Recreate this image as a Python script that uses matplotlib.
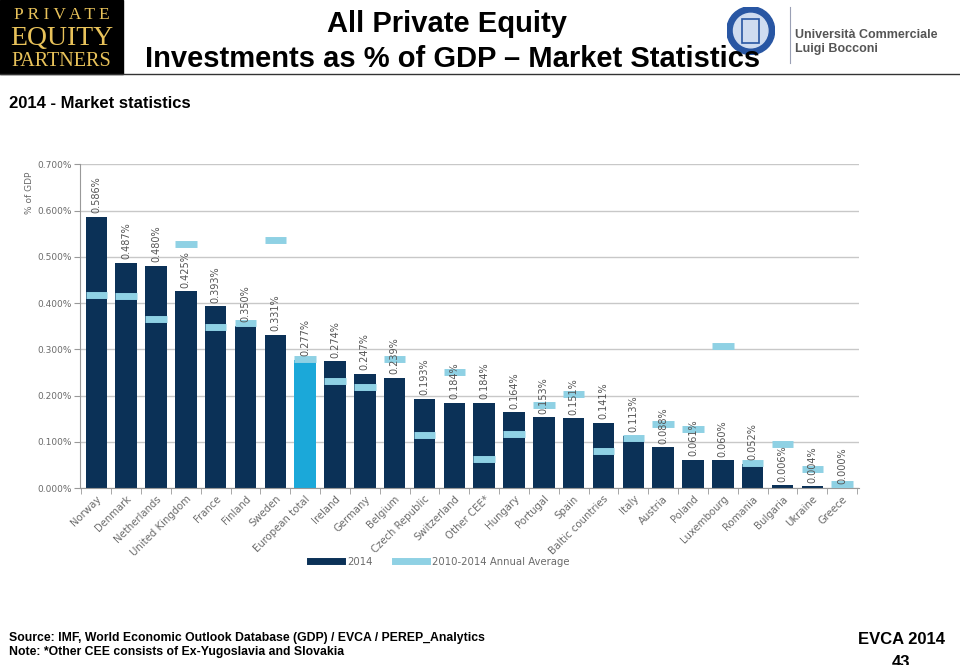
import matplotlib
matplotlib.use("Agg")
import matplotlib.pyplot as plt
from matplotlib.patches import Rectangle, Circle
from matplotlib.lines import Line2D

# data (% of GDP)
countries = ["Norway", "Denmark", "Netherlands", "United Kingdom", "France", "Finland",
             "Sweden", "European total", "Ireland", "Germany", "Belgium", "Czech Republic",
             "Switzerland", "Other CEE*", "Hungary", "Portugal", "Spain", "Baltic countries",
             "Italy", "Austria", "Poland", "Luxembourg", "Romania", "Bulgaria", "Ukraine",
             "Greece"]
val_2014 = [0.586, 0.487, 0.480, 0.425, 0.393, 0.350, 0.331, 0.277, 0.274, 0.247, 0.239,
            0.193, 0.184, 0.184, 0.164, 0.153, 0.151, 0.141, 0.113, 0.088, 0.061, 0.060,
            0.052, 0.006, 0.004, 0.000]
avg_10_14 = [0.417, 0.415, 0.365, 0.527, 0.348, 0.356, 0.536, 0.279, 0.231, 0.218, 0.279,
             0.114, 0.250, 0.063, 0.117, 0.179, 0.203, 0.080, 0.108, 0.138, 0.127, 0.307,
             0.055, 0.095, 0.041, 0.009]
labels_2014 = ["0.586%", "0.487%", "0.480%", "0.425%", "0.393%", "0.350%", "0.331%",
               "0.277%", "0.274%", "0.247%", "0.239%", "0.193%", "0.184%", "0.184%",
               "0.164%", "0.153%", "0.151%", "0.141%", "0.113%", "0.088%", "0.061%",
               "0.060%", "0.052%", "0.006%", "0.004%", "0.000%"]
yticks = [0.0, 0.1, 0.2, 0.3, 0.4, 0.5, 0.6, 0.7]

navy = "#0b3157"
cyan = "#1ba8d9"
light = "#8fd1e4"
grey = "#6b6b6b"

fig = plt.figure(figsize=(9.6, 6.65), dpi=100)
ax = fig.add_axes([0.0833, 0.266, 0.811, 0.487])

x = list(range(len(countries)))
colors = [cyan if c == "European total" else navy for c in countries]
ax.bar(x, val_2014, width=0.72, color=colors, zorder=2)
ax.hlines(avg_10_14, [i - 0.36 for i in x], [i + 0.36 for i in x],
          colors=light, lw=5, zorder=3)
for i, v in enumerate(val_2014):
    ax.text(i, v + 0.008, labels_2014[i], rotation=90, ha="center", va="bottom",
            fontsize=7, color="#555555", zorder=4)

ax.set_ylim(0, 0.7)
ax.set_xlim(-0.55, len(countries) - 0.45)
ax.set_yticks(yticks)
ax.set_yticklabels(["%.3f%%" % t for t in yticks], fontsize=6.5, color=grey)
ax.yaxis.grid(True, color="#c8c8c8", lw=1, zorder=0)
ax.set_xticks(x)
ax.set_xticklabels(countries, rotation=45, ha="right", rotation_mode="anchor",
                   fontsize=7.3, color=grey)
ax.tick_params(axis="x", length=0, pad=4)
ax.set_xticks([i + 0.5 for i in range(-1, len(countries))], minor=True)
ax.tick_params(axis="x", which="minor", length=4, color="#999999", direction="out")
ax.tick_params(axis="y", length=4, color="#999999", pad=2)
for s in ["top", "right"]:
    ax.spines[s].set_visible(False)
ax.spines["left"].set_color("#999999")
ax.spines["bottom"].set_color("#999999")

fig.text(0.031, 0.71, "% of GDP", rotation=90, fontsize=6.5, color=grey,
         ha="center", va="center")

handles = [Line2D([], [], color=navy, lw=5), Line2D([], [], color=light, lw=5)]
fig.legend(handles, ["2014", "2010-2014 Annual Average"], loc="center",
           bbox_to_anchor=(0.458, 0.155), ncol=2, frameon=False, fontsize=7.3,
           handlelength=3.2, handletextpad=0.5, columnspacing=2.2, labelcolor=grey)

# header
fig.patches.append(Rectangle((0, 0.889), 0.128, 0.111, transform=fig.transFigure,
                             color="black", zorder=1))
for txt, yy, fs in [("P R I V A T E", 0.978, 12.5), ("EQUITY", 0.942, 20),
                    ("PARTNERS", 0.908, 14.5)]:
    fig.text(0.064, yy, txt, ha="center", va="center", fontsize=fs, color="#e8c25a",
             family="Liberation Serif", zorder=2)
fig.text(0.466, 0.964, "All Private Equity", ha="center", va="center", fontsize=21,
         weight="bold", family="Liberation Sans")
fig.text(0.471, 0.912, "Investments as % of GDP \u2013 Market Statistics", ha="center",
         va="center", fontsize=21, weight="bold", family="Liberation Sans")

# university seal, drawn in its own square axes so it stays round
seal = fig.add_axes([0.757, 0.918, 0.05, 0.072])
seal.set_aspect("equal")
seal.set_xlim(-1, 1)
seal.set_ylim(-1, 1)
seal.axis("off")
seal.add_patch(Circle((0, 0), 1.0, color="#2856a3"))
seal.add_patch(Circle((0, 0), 0.72, color="#cfdcf0"))
seal.add_patch(Rectangle((-0.35, -0.5), 0.7, 1.0, color="#2856a3", fill=False, lw=1.2))

fig.lines.append(Line2D([0.823, 0.823], [0.905, 0.99], transform=fig.transFigure,
                        color="#9aa0b5", lw=0.8))
fig.text(0.828, 0.937, "Università Commerciale\nLuigi Bocconi", ha="left", va="center",
         fontsize=9, weight="bold", color="#555555", family="Liberation Sans",
         linespacing=1.15)
fig.lines.append(Line2D([0.0, 1.0], [0.888, 0.888], transform=fig.transFigure,
                        color="#333333", lw=1))
fig.text(0.009, 0.845, "2014 - Market statistics", ha="left", va="center", fontsize=12,
         weight="bold", family="Liberation Sans")

# footer
fig.text(0.009, 0.041, "Source: IMF, World Economic Outlook Database (GDP) / EVCA / PEREP_Analytics",
         ha="left", va="center", fontsize=8.8, weight="bold", family="Liberation Sans")
fig.text(0.009, 0.019, "Note: *Other CEE consists of Ex-Yugoslavia and Slovakia",
         ha="left", va="center", fontsize=8.8, weight="bold", family="Liberation Sans")
fig.text(0.939, 0.038, "EVCA 2014", ha="center", va="center", fontsize=12,
         weight="bold", family="Liberation Sans")
fig.text(0.939, 0.004, "43", ha="center", va="center", fontsize=12,
         weight="bold", family="Liberation Sans")

fig.savefig("out.png", dpi=100)
